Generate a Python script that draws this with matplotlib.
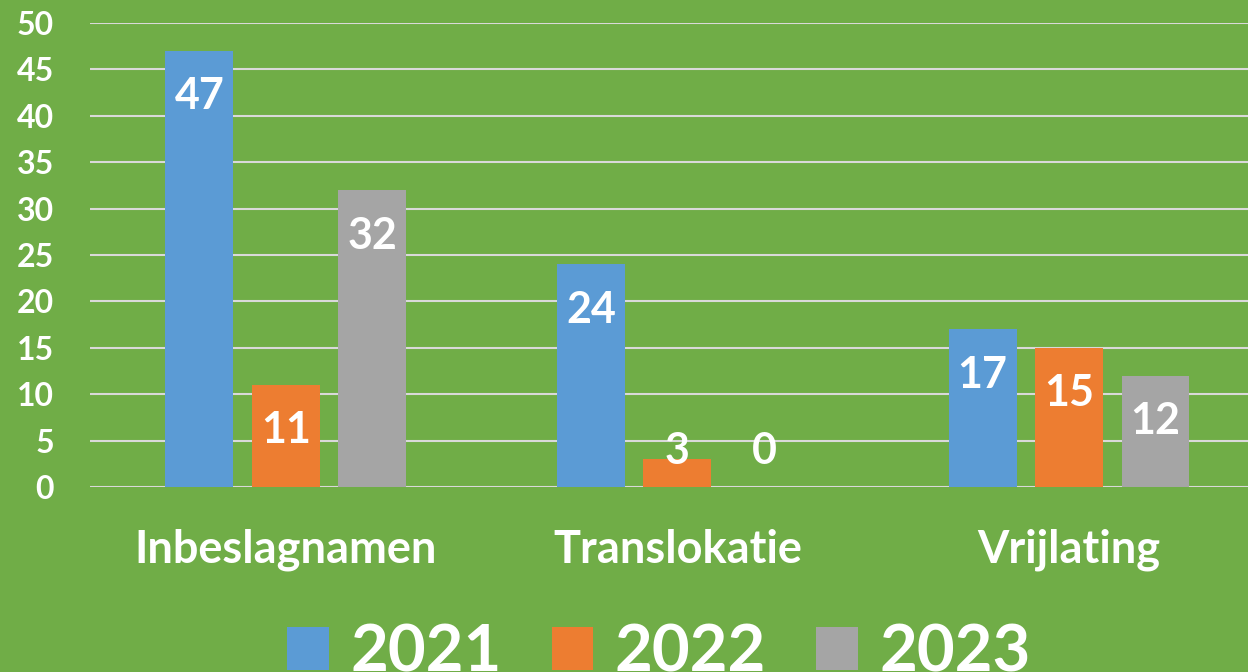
import matplotlib.pyplot as plt
import numpy as np

# data
categories = ['Inbeslagnamen', 'Translokatie', 'Vrijlating']
years = ['2021', '2022', '2023']
v2021 = [47, 24, 17]
v2022 = [11, 3, 15]
v2023 = [32, 0, 12]

colors = ['#5B9BD5', '#ED7D31', '#A5A5A5']
green = '#70AD47'

plt.rcParams['font.family'] = ['Lato', 'DejaVu Sans']
plt.rcParams['font.weight'] = 'bold'

fig = plt.figure(figsize=(12.48, 6.72), dpi=100, facecolor=green)
ax = fig.add_axes([90 / 1248, 1 - 487 / 672, 1 - 90 / 1248, 464 / 672])
ax.set_facecolor(green)

x = np.arange(len(categories))
width = 0.1736
offset = 0.2208
bars = []
for i, (vals, c) in enumerate(zip([v2021, v2022, v2023], colors)):
    b = ax.bar(x + (i - 1) * offset, vals, width, color=c, zorder=3, label=years[i])
    bars.append(b)
    # labels inside the bar end, pushed up for short bars
    for xi, v in zip(x, vals):
        ax.text(xi + (i - 1) * offset, max(v - 6.3, 2.5), str(v), ha='center', va='baseline',
                color='white', fontsize=31, fontweight='bold', zorder=4)

ax.set_ylim(0, 50)
ax.set_xlim(-0.5, 2.457)
ax.set_yticks(range(0, 51, 5))
ax.yaxis.grid(True, color='#D9D9D9', linewidth=1.5, zorder=0)
ax.set_axisbelow(True)
for s in ax.spines.values():
    s.set_visible(False)

ax.set_xticks(x)
ax.set_xticklabels(categories, fontsize=32.5, color='white', fontweight='bold', va='baseline')
ax.tick_params(axis='x', length=0, pad=54.7)
ax.tick_params(axis='y', length=0, pad=26, labelsize=23, labelcolor='white')

# legend sits partly below the bottom edge, like the original
fig.legend(handles=bars, labels=years, loc='upper center', bbox_to_anchor=(659 / 1248, 0.072),
           ncol=3, frameon=False, fontsize=47, labelcolor='white',
           handlelength=0.64, handleheight=0.62, handletextpad=0.33, columnspacing=0.76,
           borderpad=0, borderaxespad=0)

fig.savefig('out.png', dpi=100, facecolor=green)
